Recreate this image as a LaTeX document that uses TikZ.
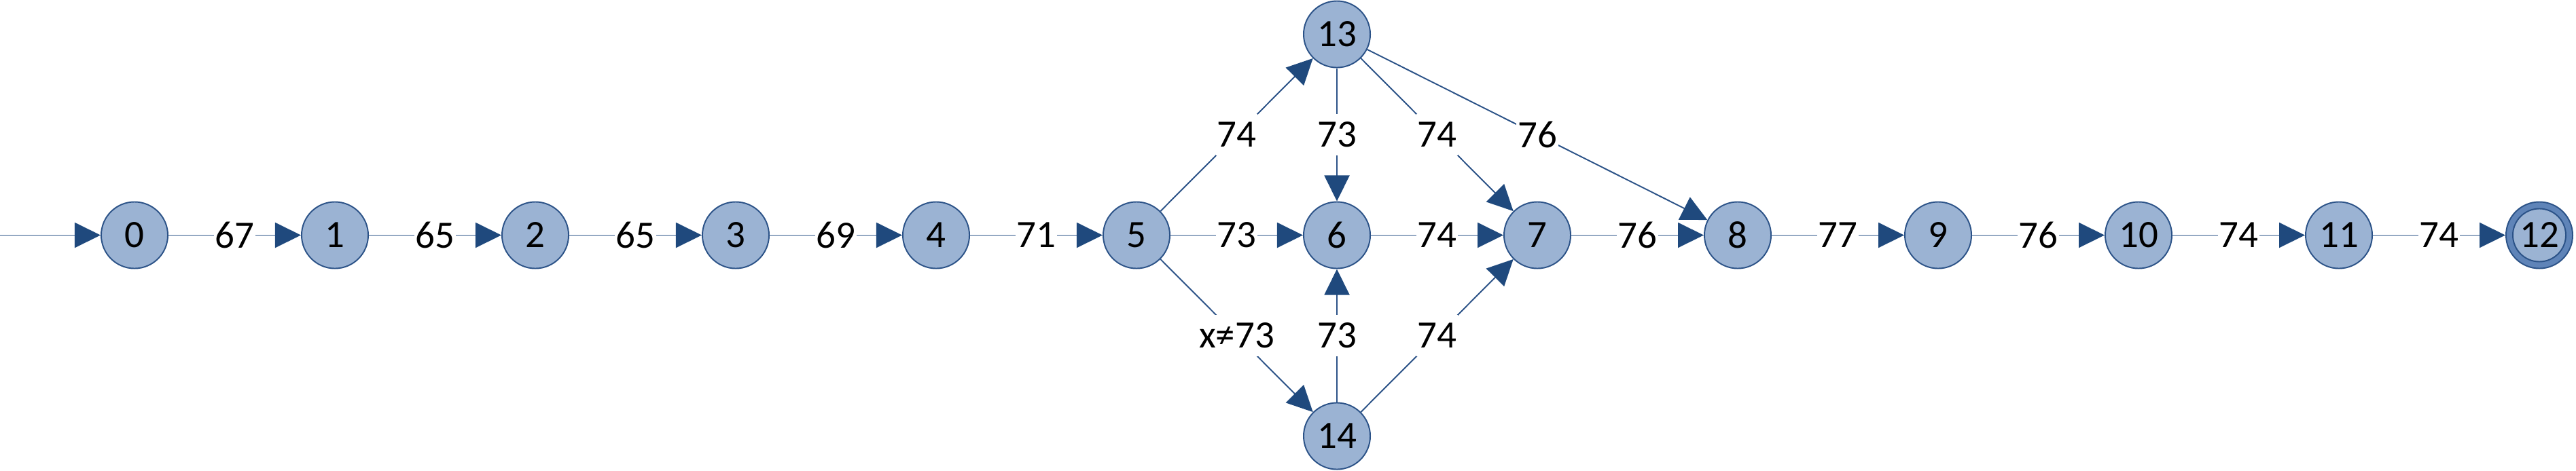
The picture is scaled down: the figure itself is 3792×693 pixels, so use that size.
\documentclass[tikz,border=0pt]{standalone}
\usepackage{fontspec}
\setmainfont{Carlito}
\usetikzlibrary{arrows.meta}
\definecolor{nodefill}{HTML}{9BB3D3}
\definecolor{nodeline}{HTML}{2B5287}
\definecolor{tipcol}{HTML}{1F497D}
\definecolor{ringfill}{HTML}{5F84B8}
\tikzset{
  state/.style={circle, draw=nodeline, line width=0.55pt, fill=nodefill, minimum size=0.98cm, inner sep=0pt, font=\fontsize{16.2}{19}\selectfont},
  edge/.style={draw=nodeline, line width=0.55pt, -{Triangle[length=0.38cm,width=0.37cm,fill=tipcol,color=tipcol]}},
  lab/.style={fill=white, inner xsep=0.5pt, inner ysep=0pt, minimum height=0.6cm, font=\fontsize{16.2}{19}\selectfont, text=black}
}
\begin{document}
\begin{tikzpicture}[x=0.01cm,y=-0.01cm]
\useasboundingbox (0,0) rectangle (3792,693);
\coordinate (start) at (0,346.5);
\foreach \i in {0,...,11}{
  \node[state] (\i) at ({198+295*\i},346.5) {\i};
}
\node[state, fill=ringfill] (12) at ({198+295*12},346.5) {};
\draw[nodeline, line width=0.55pt, fill=nodefill] (12.center) circle (0.39cm);
\node[font=\fontsize{16.2}{19}\selectfont] (12t) at (12.center) {12};
\node[state] (13) at (1968,50.5) {13};
\node[state] (14) at (1968,642.5) {14};

\draw[edge] (start) -- (0);
\foreach \a/\b/\l in {0/1/67,1/2/65,2/3/65,3/4/69,4/5/71,5/6/73,6/7/74,7/8/76,8/9/77,9/10/76,10/11/74,11/12/74}{
  \draw[edge] (\a) -- node[lab] {\l} (\b);
}
\draw[edge] (5) -- node[lab] {74} (13);
\draw[edge] (13) -- node[lab] {73} (6);
\draw[edge] (13) -- node[lab] {74} (7);
\draw[edge] (13) -- node[lab] {76} (8);
\draw[edge] (5) -- node[lab] {x≠73} (14);
\draw[edge] (14) -- node[lab] {73} (6);
\draw[edge] (14) -- node[lab] {74} (7);
\end{tikzpicture}
\end{document}
